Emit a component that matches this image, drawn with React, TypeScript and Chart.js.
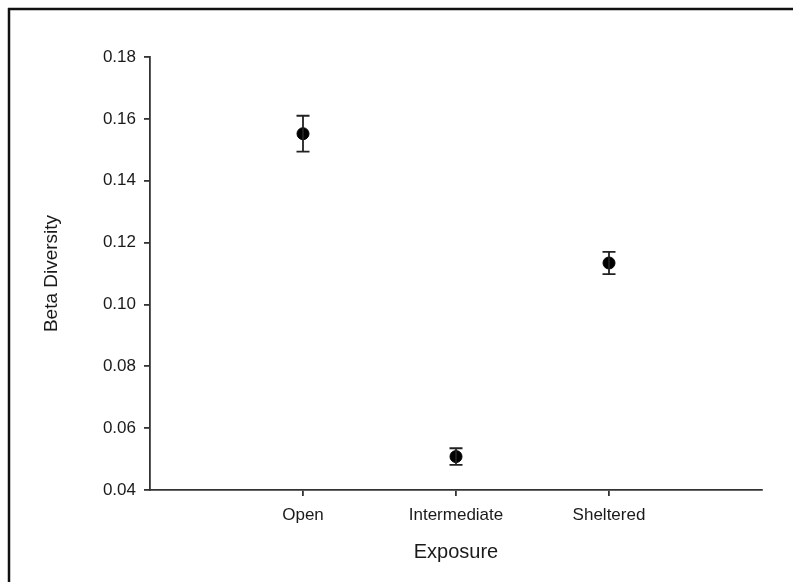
import React, { useEffect, useRef } from "react";
import { Chart, registerables } from "chart.js";

Chart.register(...registerables);

const categories = ["Open", "Intermediate", "Sheltered"];
const betaMeans = [0.1552, 0.0508, 0.1134];
const betaErrors = [0.0058, 0.0027, 0.0036];
const yMin = 0.04;
const yMax = 0.18;
const yStep = 0.02;

const FONT = "'Liberation Sans', Arial, sans-serif";

const errorBarPlugin = {
  id: "errorBars",
  afterDatasetsDraw(chart: any) {
    const ctx = chart.ctx;
    const xs = chart.scales.x;
    const ys = chart.scales.y;
    ctx.save();
    ctx.strokeStyle = "#222";
    ctx.lineWidth = 1.8;
    betaMeans.forEach((m, i) => {
      const x = xs.getPixelForValue(i + 1);
      const yt = ys.getPixelForValue(m + betaErrors[i]);
      const yb = ys.getPixelForValue(m - betaErrors[i]);
      ctx.beginPath();
      ctx.moveTo(x, yt);
      ctx.lineTo(x, yb);
      ctx.moveTo(x - 6.5, yt);
      ctx.lineTo(x + 6.5, yt);
      ctx.moveTo(x - 6.5, yb);
      ctx.lineTo(x + 6.5, yb);
      ctx.stroke();
    });
    ctx.restore();
  },
};

const framePlugin = {
  id: "frame",
  afterDraw(chart: any) {
    const ctx = chart.ctx;
    ctx.save();
    ctx.strokeStyle = "#111";
    ctx.lineWidth = 2.5;
    ctx.beginPath();
    ctx.moveTo(8, 9);
    ctx.lineTo(793, 9);
    ctx.moveTo(9, 8);
    ctx.lineTo(9, 582);
    ctx.stroke();
    ctx.restore();
  },
};

export default function App() {
  const ref = useRef<HTMLCanvasElement | null>(null);
  useEffect(() => {
    if (!ref.current) return;
    const chart = new Chart(ref.current, {
      type: "scatter",
      data: {
        datasets: [
          {
            data: betaMeans.map((v, i) => ({ x: i + 1, y: v })),
            backgroundColor: "#000",
            borderColor: "#000",
            pointRadius: 6,
            pointHoverRadius: 6,
          },
        ],
      },
      options: {
        responsive: false,
        animation: false,
        devicePixelRatio: 1,
        layout: { padding: { top: 57, right: 31, left: 0, bottom: 0 } },
        plugins: {
          legend: { display: false },
          tooltip: { enabled: false },
        },
        scales: {
          x: {
            type: "linear",
            min: 0,
            max: 4,
            afterBuildTicks: (scale: any) => {
              scale.ticks = categories.map((_, i) => ({ value: i + 1 }));
            },
            afterFit: (scale: any) => {
              scale.height = 92;
            },
            ticks: {
              autoSkip: false,
              maxRotation: 0,
              padding: 9,
              color: "#1a1a1a",
              font: { family: FONT, size: 17 },
              callback: (v: any) => categories[Math.round(Number(v)) - 1] ?? "",
            },
            grid: {
              display: true,
              drawOnChartArea: false,
              tickLength: 6,
              color: "#333",
              lineWidth: 1.8,
            },
            border: { display: true, color: "#333", width: 1.8 },
            title: {
              display: true,
              text: "Exposure",
              color: "#1a1a1a",
              font: { family: FONT, size: 20 },
              padding: { top: 0, bottom: 18 },
            },
          },
          y: {
            type: "linear",
            min: yMin,
            max: yMax,
            afterFit: (scale: any) => {
              scale.width = 150;
            },
            ticks: {
              stepSize: yStep,
              padding: 8,
              color: "#1a1a1a",
              font: { family: FONT, size: 17 },
              callback: (v: any) => Number(v).toFixed(2),
            },
            grid: {
              display: true,
              drawOnChartArea: false,
              tickLength: 6,
              color: "#333",
              lineWidth: 1.8,
            },
            border: { display: true, color: "#333", width: 1.8 },
            title: {
              display: true,
              text: "Beta Diversity",
              color: "#1a1a1a",
              font: { family: FONT, size: 19 },
              padding: { top: 40, bottom: 0 },
            },
          },
        },
      },
      plugins: [errorBarPlugin, framePlugin],
    });
    return () => chart.destroy();
  }, []);
  return (
    <div style={{ position: "absolute", left: 0, top: 0, width: 793, height: 582, background: "#fff" }}>
      <canvas ref={ref} width={793} height={582} style={{ display: "block", width: 793, height: 582 }} />
    </div>
  );
}
